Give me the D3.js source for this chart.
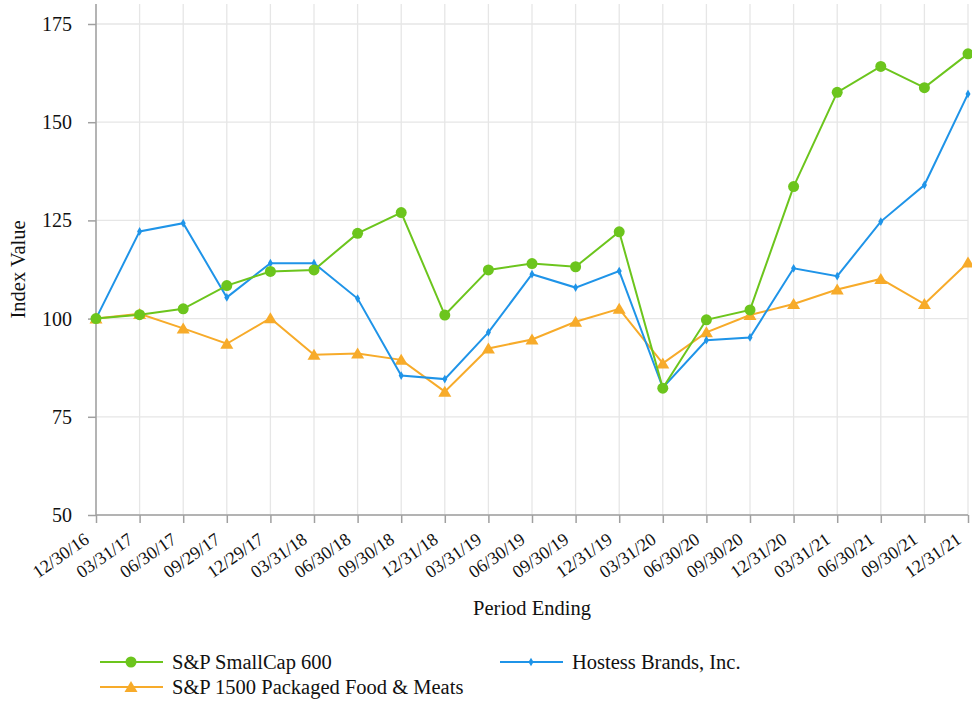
<!DOCTYPE html>
<html><head><meta charset="utf-8">
<script src="https://cdn.jsdelivr.net/npm/d3@7"></script>
<style>body{margin:0;background:#fff;} svg{display:block;font-family:"Liberation Serif","Times New Roman",serif;}</style>
</head><body><svg id="c" width="972" height="703"></svg>
<script>
const periods = ["12/30/16","03/31/17","06/30/17","09/29/17","12/29/17","03/31/18","06/30/18","09/30/18","12/31/18","03/31/19","06/30/19","09/30/19","12/31/19","03/31/20","06/30/20","09/30/20","12/31/20","03/31/21","06/30/21","09/30/21","12/31/21"];
const smallCap = [100,101.0,102.5,108.4,112.0,112.4,121.7,127.0,100.9,112.4,114.0,113.2,122.1,82.3,99.7,102.2,133.6,157.6,164.2,158.8,167.4];
const hostess = [100,122.2,124.3,105.4,114.1,114.1,105.1,85.5,84.6,96.5,111.3,107.9,112.1,82.4,94.5,95.2,112.8,110.8,124.7,134.0,157.2];
const packaged = [100,101.2,97.5,93.6,100.1,90.8,91.1,89.5,81.4,92.4,94.7,99.2,102.5,88.6,96.5,100.9,103.7,107.4,110.1,103.7,114.3];
const yTicks = [50,75,100,125,150,175];

const series = [
  {name:"S&P SmallCap 600", values:smallCap, color:"#6cc51d", marker:"circle"},
  {name:"Hostess Brands, Inc.", values:hostess, color:"#1f94e8", marker:"diamond"},
  {name:"S&P 1500 Packaged Food & Meats", values:packaged, color:"#f7ab2a", marker:"triangle"}
];

const svg = d3.select("#c");
const L=96, R=968, T=4, B=515;
const x = d3.scalePoint().domain(periods).range([L,R]);
const y = d3.scaleLinear().domain([50,180]).range([B, B-(130/125)*491]);

// grid
const g = svg.append("g");
g.selectAll(".vg").data(periods).join("line")
  .attr("x1",d=>x(d)).attr("x2",d=>x(d)).attr("y1",T).attr("y2",B)
  .attr("stroke","#e6e6e6").attr("stroke-width",1.3);
g.selectAll(".hg").data(yTicks).join("line")
  .attr("x1",L).attr("x2",R).attr("y1",d=>y(d)).attr("y2",d=>y(d))
  .attr("stroke","#e6e6e6").attr("stroke-width",1.3);

// axes
const ya = svg.append("g").attr("transform",`translate(${L},0)`)
  .call(d3.axisLeft(y).tickValues(yTicks).tickSize(8).tickPadding(16));
ya.select(".domain").attr("stroke","#a0a0a0").attr("stroke-width",1.5).attr("d",`M0,${T}V${B}`);
ya.selectAll(".tick line").attr("stroke","#a0a0a0").attr("stroke-width",1.5);
ya.selectAll("text").attr("font-size",20).attr("fill","#111").attr("font-family","Liberation Serif");

const xa = svg.append("g").attr("transform",`translate(0,${B})`)
  .call(d3.axisBottom(x).tickSize(8).tickPadding(0));
xa.select(".domain").attr("stroke","#a0a0a0").attr("stroke-width",1.5).attr("d",`M${L},0H${R}`);
xa.selectAll(".tick line").attr("stroke","#a0a0a0").attr("stroke-width",1.5);
xa.selectAll("text").attr("font-size",18).attr("fill","#111").attr("font-family","Liberation Serif")
  .attr("text-anchor","end").attr("y",0).attr("dy","0").attr("transform","translate(-6,27) rotate(-35)");

// titles
svg.append("text").attr("x",532).attr("y",615).attr("text-anchor","middle")
  .attr("font-size",20.5).attr("fill","#111").text("Period Ending");
svg.append("text").attr("transform",`translate(25,${(y(175)+B)/2}) rotate(-90)`).attr("text-anchor","middle")
  .attr("font-size",20.5).attr("fill","#111").text("Index Value");

function drawMarker(sel, type, color){
  if(type==="circle") sel.append("circle").attr("r",5.5).attr("fill",color);
  else if(type==="diamond") sel.append("path").attr("d",d3.symbol(d3.symbolDiamond,22)()).attr("fill",color);
  else sel.append("path").attr("d","M0,-6L6.5,5L-6.5,5Z").attr("fill",color);
}

const line = d3.line().x((d,i)=>x(periods[i])).y(d=>y(d));
[series[2],series[1],series[0]].forEach(s=>{
  svg.append("path").attr("d",line(s.values)).attr("fill","none")
    .attr("stroke",s.color).attr("stroke-width",2);
  s.values.forEach((v,i)=>{
    const m = svg.append("g").attr("transform",`translate(${x(periods[i])},${y(v)})`);
    drawMarker(m, s.marker, s.color);
  });
});

// legend
const leg = [
  {s:series[0], x:100, y:662},
  {s:series[1], x:500, y:662},
  {s:series[2], x:100, y:687}
];
leg.forEach(o=>{
  const lg = svg.append("g").attr("transform",`translate(${o.x},${o.y})`);
  lg.append("line").attr("x1",0).attr("x2",63).attr("stroke",o.s.color).attr("stroke-width",2);
  const m = lg.append("g").attr("transform","translate(31,0)");
  drawMarker(m, o.s.marker, o.s.color);
  lg.append("text").attr("x",72).attr("y",7).attr("font-size",20.5).attr("fill","#111").text(o.s.name);
});
</script></body></html>
